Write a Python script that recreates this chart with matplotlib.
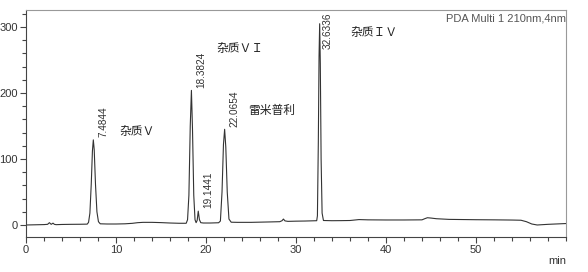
import matplotlib
matplotlib.use("Agg")
import numpy as np
import matplotlib.pyplot as plt
from matplotlib.ticker import MultipleLocator

# chromatogram trace (time in min, signal in mAU)
t = [0.0, 1.0, 2.0, 2.4, 2.6, 2.8, 3.0, 3.15, 3.35, 4.0, 5.0, 6.0, 6.8,
     6.95, 7.1, 7.25, 7.38, 7.48, 7.58, 7.72, 7.88, 8.05, 8.25, 9.0,
     10.0, 11.0, 11.8, 12.4, 13.0, 14.0, 15.0, 16.0, 17.0, 17.8,
     17.95, 18.1, 18.25, 18.38, 18.5, 18.64, 18.78, 18.9,
     19.02, 19.14, 19.27, 19.42, 19.7, 20.5, 21.4,
     21.6, 21.78, 21.94, 22.07, 22.2, 22.36, 22.55, 22.8, 23.5,
     25.0, 27.0, 28.2, 28.45, 28.6, 28.78, 29.1, 30.0, 31.0, 32.3,
     32.38, 32.48, 32.56, 32.63, 32.7, 32.79, 32.9, 33.05, 34.0,
     35.0, 36.0, 37.0, 38.0, 40.0, 42.0, 44.0, 44.3, 44.6, 45.0, 45.6,
     47.0, 50.0, 52.0, 54.0, 55.0, 55.6, 56.2, 56.8, 58.0, 60.0]
sig = [0.0, 0.3, 0.6, 1.0, 3.5, 1.0, 2.8, 1.0, 0.5, 0.8, 1.0, 1.1, 1.3,
       4.0, 18.0, 62.0, 112.0, 129.0, 114.0, 62.0, 20.0, 5.0, 1.8, 1.5,
       1.5, 1.8, 2.5, 3.5, 4.0, 4.0, 3.6, 3.0, 2.6, 2.6,
       8.0, 45.0, 150.0, 204.0, 145.0, 45.0, 8.0, 3.5,
       7.0, 21.0, 8.0, 3.5, 3.0, 3.0, 3.4,
       6.0, 50.0, 122.0, 145.0, 118.0, 50.0, 9.0, 4.2, 4.0,
       4.0, 4.6, 5.0, 6.5, 9.0, 6.2, 5.5, 5.8, 6.0, 6.5,
       14.0, 125.0, 255.0, 305.0, 245.0, 100.0, 18.0, 6.8, 6.5,
       6.6, 6.8, 8.2, 7.8, 7.6, 7.6, 7.8, 9.5, 11.0, 10.5, 9.5,
       8.5, 8.0, 7.8, 7.5, 7.2, 5.0, 1.5, 0.0, 1.0, 2.2]

rt_labels = ["7.4844", "18.3824", "19.1441", "22.0654", "32.6336"]
rt_times = [7.4844, 18.3824, 19.1441, 22.0654, 32.6336]
rt_heights = [129.0, 204.0, 21.0, 145.0, 305.0]

names = ["杂质Ｖ", "杂质ＶＩ", "雷米普利", "杂质ＩＶ"]
name_xy = [(10.4, 141), (21.1, 268), (24.7, 174), (36.0, 291)]

plt.rcParams['font.family'] = ['Liberation Sans', 'DejaVu Sans']
plt.rcParams['xtick.direction'] = 'out'
plt.rcParams['ytick.direction'] = 'out'

fig = plt.figure(figsize=(5.88, 2.72), dpi=100)
ax = fig.add_axes([26/588, 35/272, 540/588, 227/272])

ax.plot(t, sig, color='#333333', lw=0.8)

ax.set_xlim(0, 60)
ax.set_ylim(-18.2, 325.8)
ax.xaxis.set_major_locator(MultipleLocator(10))
ax.xaxis.set_minor_locator(MultipleLocator(2))
ax.yaxis.set_major_locator(MultipleLocator(100))
ax.yaxis.set_minor_locator(MultipleLocator(20))
ax.set_xticks([0, 10, 20, 30, 40, 50])
ax.tick_params(which='major', length=4, width=0.8, color='#444444',
               labelsize=8, labelcolor='#333333', pad=2)
ax.tick_params(which='minor', length=3, width=0.8, color='#444444')

for s in ['left', 'bottom']:
    ax.spines[s].set_color('#444444')
    ax.spines[s].set_linewidth(0.8)
for s in ['top', 'right']:
    ax.spines[s].set_color('#999999')
    ax.spines[s].set_linewidth(0.8)

ytop = ax.get_ylim()[1]
for lab, x, h in zip(rt_labels, rt_times, rt_heights):
    if h > ytop - 60:
        ax.annotate(lab, xy=(x, ytop), xytext=(6, -2), textcoords='offset points',
                    rotation=90, ha='center', va='top', fontsize=7.2, color='#333333')
    else:
        ax.annotate(lab, xy=(x, h), xytext=(7, 2), textcoords='offset points',
                    rotation=90, ha='center', va='bottom', fontsize=7.2, color='#333333')

for nm, (x, y) in zip(names, name_xy):
    ax.text(x, y, nm, ha='left', va='center', fontsize=8.5, color='#222222',
            family=['Noto Sans CJK SC', 'DejaVu Sans'])

ax.text(1.0, 0.985, "PDA Multi 1 210nm,4nm", transform=ax.transAxes,
        ha='right', va='top', fontsize=8, color='#555555')
fig.text(566/588, 1 - 261/272, "min", ha='right', va='center', fontsize=8, color='#333333')

fig.savefig("out.png", dpi=100)
